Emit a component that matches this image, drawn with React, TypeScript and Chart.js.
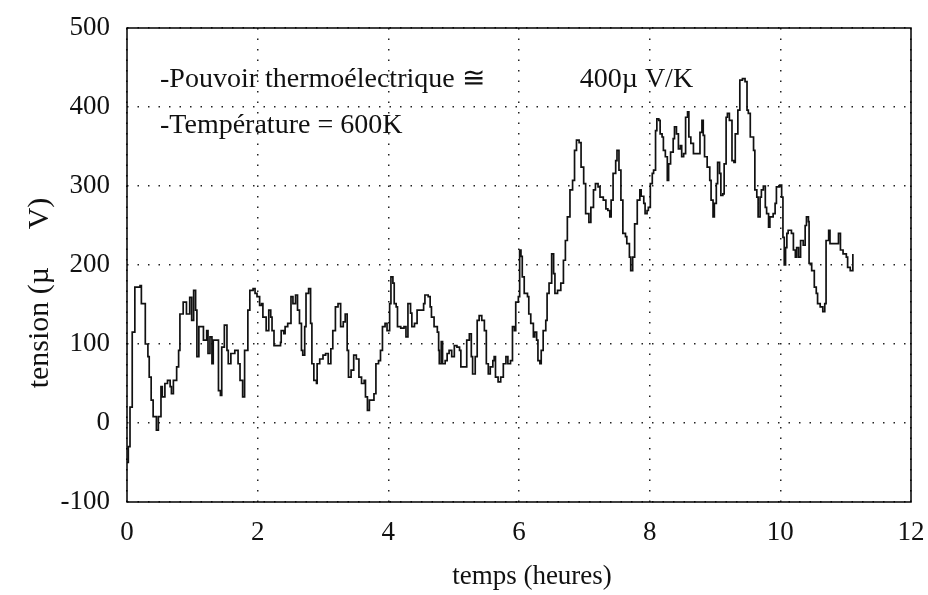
import React, { useEffect, useRef } from "react";
import { Chart, registerables } from "chart.js";

Chart.register(...registerables);

// time in hours
const timeHours: number[] = [
  0.0, 0.02, 0.046, 0.08, 0.12, 0.2, 0.22, 0.28, 0.32, 0.34, 0.37, 0.4, 0.45, 0.48, 0.52, 0.54, 0.58, 0.62, 0.66, 0.68,
  0.71, 0.76, 0.79, 0.81, 0.86, 0.91, 0.96, 0.99, 1.02, 1.05, 1.07, 1.1, 1.17, 1.22, 1.24, 1.27, 1.3, 1.32, 1.4, 1.43,
  1.45, 1.49, 1.53, 1.55, 1.59, 1.65, 1.7, 1.73, 1.77, 1.8, 1.85,
  1.88, 1.93, 1.96, 1.99, 2.03, 2.06, 2.08, 2.13, 2.17, 2.2, 2.22, 2.25, 2.31, 2.35, 2.36, 2.4, 2.42, 2.46, 2.51, 2.54,
  2.58, 2.61, 2.64, 2.67, 2.69, 2.72, 2.74, 2.78, 2.81, 2.83, 2.86, 2.9, 2.91, 2.95, 3.0, 3.04, 3.08, 3.12, 3.15, 3.19,
  3.23, 3.27, 3.31, 3.34, 3.37, 3.39, 3.43, 3.47, 3.51, 3.55, 3.59, 3.63, 3.65, 3.68, 3.71,
  3.75, 3.78, 3.81, 3.85, 3.88, 3.91, 3.95, 3.98, 4.02, 4.04, 4.07, 4.09, 4.12, 4.14, 4.19, 4.24, 4.27, 4.3, 4.34, 4.36,
  4.4, 4.44, 4.5, 4.54, 4.56, 4.61, 4.64, 4.66, 4.7, 4.75, 4.77, 4.78, 4.81, 4.83, 4.87, 4.9, 4.93, 4.97, 5.01, 5.05,
  5.09, 5.11, 5.16, 5.2, 5.24, 5.27, 5.29, 5.33, 5.36, 5.39, 5.43, 5.47, 5.5, 5.53, 5.56, 5.6,
  5.62, 5.64, 5.68, 5.72, 5.76, 5.8, 5.83, 5.87, 5.9, 5.93, 5.95, 5.99, 6.01, 6.03, 6.05, 6.08, 6.13, 6.15, 6.18, 6.22,
  6.24, 6.27, 6.29, 6.32, 6.34, 6.37, 6.41, 6.43, 6.46, 6.5, 6.53, 6.55, 6.59, 6.64, 6.68, 6.71, 6.74, 6.78, 6.82, 6.85,
  6.88, 6.92, 6.95, 6.99, 7.02, 7.07, 7.1, 7.14, 7.17, 7.21, 7.24, 7.29, 7.33, 7.36, 7.39, 7.41, 7.44, 7.48,
  7.5, 7.53, 7.56, 7.59, 7.63, 7.65, 7.69, 7.71, 7.74, 7.77, 7.81, 7.85, 7.87, 7.91, 7.93, 7.96, 7.98, 8.01, 8.04, 8.06,
  8.09, 8.11, 8.14, 8.16, 8.19, 8.21, 8.24, 8.27, 8.29, 8.32, 8.36, 8.38, 8.41, 8.44, 8.47, 8.49, 8.52, 8.55, 8.58, 8.6,
  8.63, 8.67, 8.72, 8.77, 8.8, 8.82, 8.84, 8.88, 8.92, 8.94, 8.97, 8.99, 9.02, 9.04, 9.07, 9.09, 9.12, 9.14, 9.17, 9.19,
  9.22, 9.26, 9.29, 9.31, 9.35, 9.38,
  9.42, 9.46, 9.49, 9.51, 9.54, 9.59, 9.61, 9.64, 9.66, 9.69, 9.71, 9.74, 9.77, 9.79, 9.82, 9.84, 9.89, 9.92, 9.94, 9.99,
  10.02, 10.04, 10.06, 10.08, 10.1, 10.12, 10.17, 10.2, 10.23, 10.25, 10.28, 10.31, 10.35, 10.38, 10.4, 10.43, 10.44,
  10.48, 10.52, 10.55, 10.57, 10.61, 10.65, 10.68, 10.7, 10.74, 10.76, 10.81, 10.89, 10.92, 10.96, 11.01, 11.03, 11.07,
  11.11,
];

// tension in microvolts
const tensionMicroV: number[] = [
  -50, -30, 20, 115, 172, 174, 151, 100, 84, 58, 29, 8, -9, 8, 46, 33, 50, 54, 46, 37,
  54, 71, 92, 138, 153, 138, 159, 130, 168, 143, 84, 122, 105, 117, 88, 109, 75, 105, 41, 35,
  96, 124, 92, 75, 88, 92, 75, 54, 33, 92, 143,
  168, 170, 164, 160, 149, 151, 134, 117, 143, 134, 117, 98, 98, 102, 117, 113, 122, 126, 160, 151,
  162, 143, 126, 92, 86, 122, 164, 170, 126, 75, 54, 50, 75, 81, 86, 88, 75, 94, 117, 147,
  151, 122, 128, 138, 92, 58, 67, 86, 81, 58, 50, 54, 33, 16, 29,
  29, 37, 75, 79, 92, 122, 126, 117, 151, 185, 177, 151, 147, 122, 120, 122, 109, 151, 139, 122,
  126, 143, 143, 151, 162, 160, 147, 134, 122, 115, 92, 75, 103, 75, 79, 88, 92, 84, 98, 96,
  92, 71, 71, 105, 113, 84, 62, 84, 130, 136, 130, 117, 75, 62, 71, 79,
  84, 58, 52, 58, 75, 84, 75, 79, 122, 117, 153, 160, 219, 211, 185, 164, 160, 138, 126, 109,
  115, 105, 79, 75, 92, 117, 130, 164, 177, 214, 189, 164, 168, 177, 206, 231, 261, 295, 307, 345,
  358, 355, 324, 303, 265, 254, 273, 295, 303, 299, 286, 282, 271, 269, 261, 282, 316, 332,
  345, 320, 282, 240, 236, 227, 210, 193, 210, 252, 282, 295, 287, 278, 265, 269, 273, 303, 316, 320,
  370, 385, 383, 366, 362, 345, 337, 307, 328, 343, 360, 375, 366, 347, 351, 337, 341, 387, 394, 362,
  354, 341, 341, 368, 383, 364, 337, 324, 307, 282, 261, 278, 303, 330, 316, 288, 290, 328, 387, 392,
  383, 332, 330, 366, 396, 434,
  436, 432, 396, 392, 362, 345, 295, 286, 261, 286, 295, 300, 273, 265, 248, 261, 265, 278, 299, 301,
  286, 235, 200, 222, 240, 244, 240, 219, 210, 222, 210, 231, 225, 250, 261, 255, 202,
  193, 172, 164, 151, 147, 141, 151, 231, 244, 227, 227, 240, 219, 214, 210, 197, 193,
  214,
];

const xMin = 0;
const xMax = 12;
const xStep = 2;
const yMin = -100;
const yMax = 500;
const yStep = 100;

const xTitle = "temps (heures)";
const yTitle = "tension (µ     V)";
const noteLine1 = "-Pouvoir thermoélectrique ≅";
const noteLine1Value = "400µ V/K";
const noteLine2 = "-Température = 600K";

export default function App() {
  const canvasRef = useRef<HTMLCanvasElement | null>(null);

  useEffect(() => {
    const canvas = canvasRef.current;
    if (!canvas) return;
    const serif = "'Liberation Serif', 'Times New Roman', Times, serif";
    const points = timeHours.map((t, i) => ({ x: t, y: tensionMicroV[i] }));

    const textPlugin = {
      id: "textsAndFrame",
      afterDraw(chart: any) {
        const { ctx, chartArea, scales } = chart;
        const xs = scales.x;
        const ys = scales.y;
        ctx.save();
        // frame
        ctx.strokeStyle = "#000";
        ctx.lineWidth = 1.5;
        ctx.setLineDash([]);
        ctx.strokeRect(chartArea.left, chartArea.top, chartArea.right - chartArea.left, chartArea.bottom - chartArea.top);
        // annotations
        ctx.fillStyle = "#111";
        ctx.font = `28px ${serif}`;
        ctx.textAlign = "left";
        ctx.textBaseline = "alphabetic";
        ctx.fillText(noteLine1, xs.getPixelForValue(0.505), ys.getPixelForValue(425));
        ctx.fillText(noteLine1Value, xs.getPixelForValue(6.93), ys.getPixelForValue(425));
        ctx.fillText(noteLine2, xs.getPixelForValue(0.505), ys.getPixelForValue(367));
        // x title
        ctx.font = `27px ${serif}`;
        ctx.textAlign = "center";
        ctx.textBaseline = "middle";
        ctx.fillText(xTitle, 532, 577);
        // y title
        ctx.translate(40, 293);
        ctx.rotate(-Math.PI / 2);
        ctx.font = `30px ${serif}`;
        ctx.fillText(yTitle, 0, 0);
        ctx.restore();
      },
    };

    const chart = new Chart(canvas, {
      type: "line",
      data: {
        datasets: [
          {
            data: points,
            borderColor: "#111",
            borderWidth: 1.7,
            pointRadius: 0,
            stepped: true,
            fill: false,
          },
        ],
      },
      options: {
        animation: false,
        responsive: false,
        devicePixelRatio: 1,
        layout: { padding: { left: 0, right: 17, top: 28, bottom: 0 } },
        plugins: {
          legend: { display: false },
          tooltip: { enabled: false },
        },
        scales: {
          x: {
            type: "linear",
            min: xMin,
            max: xMax,
            afterFit: (s: any) => {
              s.height = 93;
              s.paddingLeft = 0;
              s.paddingRight = 0;
            },
            ticks: {
              stepSize: xStep,
              color: "#111",
              padding: 15,
              font: { family: serif, size: 27 },
              maxRotation: 0,
            },
            grid: { color: "#222", lineWidth: 1.5, drawTicks: false },
            border: { display: false, dash: [1.5, 9] },
          },
          y: {
            type: "linear",
            min: yMin,
            max: yMax,
            afterFit: (s: any) => {
              s.width = 127;
              s.paddingTop = 0;
              s.paddingBottom = 0;
            },
            ticks: {
              stepSize: yStep,
              color: "#111",
              padding: 17,
              font: { family: serif, size: 27 },
            },
            grid: { color: "#222", lineWidth: 1.5, drawTicks: false },
            border: { display: false, dash: [1.5, 9] },
          },
        },
      },
      plugins: [textPlugin],
    });

    return () => chart.destroy();
  }, []);

  return (
    <div style={{ position: "fixed", left: 0, top: 0, width: 928, height: 595, background: "#fff" }}>
      <canvas ref={canvasRef} width={928} height={595} style={{ display: "block" }} />
    </div>
  );
}
